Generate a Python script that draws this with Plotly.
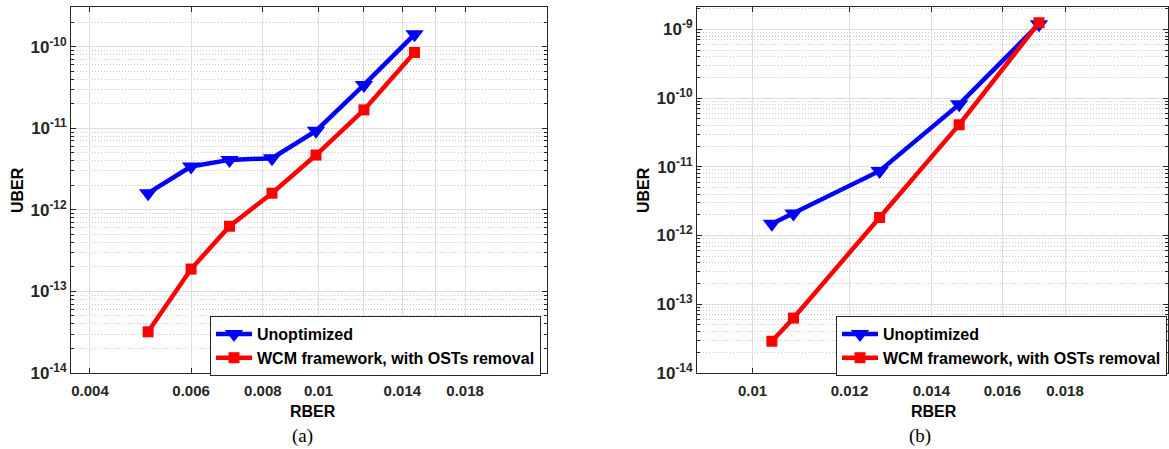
import numpy as np
import plotly.graph_objects as go

# ---------------- data ----------------
rber_a = [0.00505, 0.0060, 0.0070, 0.0083, 0.0099, 0.0120, 0.0147]
uber_a_unopt = [1.6e-12, 3.4e-12, 4.1e-12, 4.3e-12, 9.3e-12, 3.4e-11, 1.42e-10]
uber_a_wcm = [3.2e-14, 1.88e-13, 6.3e-13, 1.6e-12, 4.7e-12, 1.68e-11, 8.5e-11]

rber_b = [0.01037, 0.0108, 0.0127, 0.01475, 0.01714]
uber_b_unopt = [1.48e-12, 2.1e-12, 8.7e-12, 8.1e-11, 1.19e-9]
uber_b_wcm = [2.9e-14, 6.3e-14, 1.83e-12, 4.1e-11, 1.25e-9]

series_names = ["Unoptimized", "WCM framework, with OSTs removal"]

xtick_a = [0.004, 0.006, 0.008, 0.01, 0.014, 0.018]
xtick_a_text = ["0.004", "0.006", "0.008", "0.01", "0.014", "0.018"]
xtick_a_unlabeled = [0.012, 0.016]
xtick_b = [0.01, 0.012, 0.014, 0.016, 0.018]
xtick_b_text = ["0.01", "0.012", "0.014", "0.016", "0.018"]
ytick_a_exp = [-14, -13, -12, -11, -10]
ytick_b_exp = [-14, -13, -12, -11, -10, -9]

# ---------------- style ----------------
W, H = 1169, 449
AX = "#262626"
FONT = "Liberation Sans"
BLUE, RED = "#0000ff", "#ff0000"
GRID = "#dedede"

def px(x):
    return x / W

def py(y):
    return 1 - y / H

fig = go.Figure()

def add_series(xs, ys, name, color, symbol, size, xa, ya, legend):
    fig.add_trace(go.Scatter(
        x=xs, y=ys, name=name, mode="lines+markers",
        line=dict(color=color, width=4.5),
        marker=dict(symbol=symbol, size=size, color=color),
        xaxis=xa, yaxis=ya, legend=legend, showlegend=True))

add_series(rber_a, uber_a_unopt, series_names[0], BLUE, "triangle-down", 16, "x", "y", "legend")
add_series(rber_a, uber_a_wcm, series_names[1], RED, "square", 11, "x", "y", "legend")
add_series(rber_b, uber_b_unopt, series_names[0], BLUE, "triangle-down", 16, "x2", "y2", "legend2")
add_series(rber_b, uber_b_wcm, series_names[1], RED, "square", 11, "x2", "y2", "legend2")

xtickfont = dict(family=FONT, size=15, color=AX, weight="bold")
ytickfont = dict(family=FONT, size=17, color=AX, weight="bold")

def minor_vals(exps):
    vals = []
    for e in exps:
        for m in range(2, 10):
            vals.append(m * 10.0 ** e)
    return vals

def xaxis(domain, tv, tt, rng, anchor, minor_tv=None):
    d = dict(type="log", domain=domain, range=rng, anchor=anchor,
             tickvals=tv, ticktext=tt, ticks="inside", ticklen=5,
             tickcolor=AX, showline=True, linecolor=AX, linewidth=1,
             mirror="allticks", showgrid=True, gridcolor=GRID,
             gridwidth=1, tickfont=xtickfont, zeroline=False,
             automargin=False, ticklabelstandoff=4)
    if minor_tv:
        d["minor"] = dict(tickvals=minor_tv, ticks="inside", ticklen=5,
                          tickcolor=AX, showgrid=True, gridcolor=GRID,
                          gridwidth=1, griddash="solid")
    return d

def yaxis(domain, exps, rng, anchor):
    return dict(type="log", domain=domain, range=rng, anchor=anchor,
                tickvals=[10.0 ** e for e in exps],
                ticktext=["10<sup>%d</sup>" % e for e in exps],
                ticks="inside", ticklen=5, tickcolor=AX, showline=True,
                linecolor=AX, linewidth=1, mirror="allticks", showgrid=True,
                gridcolor=GRID, gridwidth=1, tickfont=ytickfont,
                zeroline=False, automargin=False,
                minor=dict(tickvals=minor_vals(exps), ticks="inside",
                           ticklen=3, tickcolor=AX, showgrid=True,
                           gridcolor="#c8c8c8", griddash="1px,2px", gridwidth=1))

ydom = [py(373), py(7)]
legfont = dict(family=FONT, size=16, color="black", weight="bold")
fig.update_layout(
    width=W, height=H, margin=dict(l=0, r=0, t=0, b=0, autoexpand=False),
    paper_bgcolor="white", plot_bgcolor="white",
    xaxis=xaxis([px(71), px(547)], xtick_a, xtick_a_text, [-2.431, -1.602], "y",
                xtick_a_unlabeled),
    yaxis=yaxis(ydom, ytick_a_exp, [-14, -9.513], "x"),
    xaxis2=xaxis([px(697), px(1167.5)], xtick_b, xtick_b_text, [-2.0454, -1.661], "y2"),
    yaxis2=yaxis(ydom, ytick_b_exp, [-14, -8.675], "x2"),
    legend=dict(x=px(210), y=py(316), xanchor="left", yanchor="top",
                bgcolor="white", bordercolor=AX, borderwidth=1,
                font=legfont, tracegroupgap=0, itemwidth=36),
    legend2=dict(x=px(836), y=py(316), xanchor="left", yanchor="top",
                 bgcolor="white", bordercolor=AX, borderwidth=1,
                 font=legfont, tracegroupgap=0, itemwidth=36),
)

labfont = dict(family=FONT, size=16, color="black", weight="bold")
capfont = dict(family="Liberation Serif", size=19, color="black")
annots = [
    dict(text="UBER", x=px(17), y=py(190), textangle=-90, font=labfont),
    dict(text="UBER", x=px(643), y=py(190), textangle=-90, font=labfont),
    dict(text="RBER", x=px(313), y=py(411), font=labfont),
    dict(text="RBER", x=px(934), y=py(411), font=labfont),
    dict(text="(a)", x=px(302), y=py(436), font=capfont),
    dict(text="(b)", x=px(920), y=py(436), font=capfont),
]
for a in annots:
    fig.add_annotation(xref="paper", yref="paper", showarrow=False,
                       xanchor="center", yanchor="middle", **a)

fig.write_html("out.html", config={"displayModeBar": False},
               post_script="document.body.style.margin='0px';")
